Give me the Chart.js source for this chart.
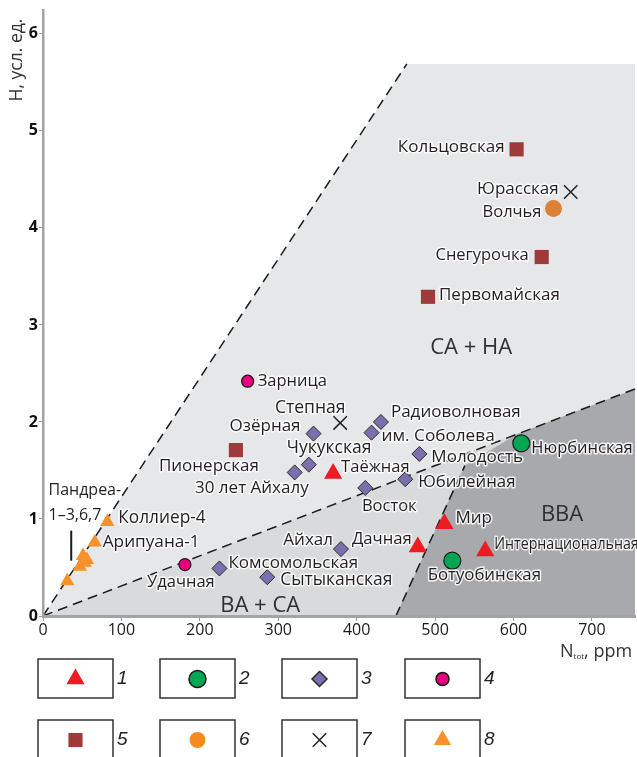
<!DOCTYPE html>
<html>
<head>
<meta charset="utf-8">
<script src="https://cdn.jsdelivr.net/npm/chart.js@4.4.1/dist/chart.umd.min.js"></script>
<style>
  body { margin: 0; background: #fff; }
  canvas { display: block; }
</style>
</head>
<body>
<canvas id="chart" width="637" height="757"></canvas>
<script>
// group 1 - red triangles
const names1 = ['Таёжная', 'Мир', 'Дачная', 'Интернациональная']
const n1 = [370, 512, 478, 564]
const h1 = [1.47, 0.95, 0.71, 0.67]
// group 2 - green circles
const names2 = ['Нюрбинская', 'Ботуобинская']
const n2 = [610, 522]
const h2 = [1.78, 0.57]
// group 3 - purple diamonds
const names3 = ['Озёрная', 'Чукукская', '30 лет Айхалу', 'Радиоволновая', 'им. Соболева', 'Молодость',
    'Юбилейная', 'Восток', 'Айхал', 'Комсомольская', 'Сытыканская']
const n3 = [345, 339, 321, 431, 419, 480, 462, 411, 380, 225, 286]
const h3 = [1.88, 1.56, 1.48, 2.00, 1.89, 1.67, 1.41, 1.32, 0.69, 0.49, 0.40]
// group 4 - magenta circles
const names4 = ['Зарница', 'Удачная']
const n4 = [261, 181]
const h4 = [2.42, 0.53]
// group 5 - brown squares
const names5 = ['Кольцовская', 'Снегурочка', 'Первомайская', 'Пионерская']
const n5 = [604, 636, 491, 246]
const h5 = [4.81, 3.70, 3.29, 1.71]
// group 6 - orange circle
const names6 = ['Волчья']
const n6 = [651]
const h6 = [4.20]
// group 7 - crosses
const names7 = ['Юрасская', 'Степная']
const n7 = [673, 379]
const h7 = [4.37, 1.99]
// group 8 - orange triangles
const names8 = ['Коллиер-4', 'Арипуана-1', '', '', '', '', '']
const n8 = [82, 66, 51, 53, 47, 56, 31]
const h8 = [0.97, 0.76, 0.62, 0.55, 0.51, 0.58, 0.36]

const xTicks = [0, 100, 200, 300, 400, 500, 600, 700]
const yTicks = [0, 1, 2, 3, 4, 5, 6]

// field boundaries (N, H)
const upperLine = [[0, 0], [464, 5.69]]
const lowerLine = [[0, 0], [755, 2.34]]
const bbaLine = [[450, 0], [538, 1.55]]
const bbaTop = [[538, 1.55], [606, 1.88], [755, 2.34]]
const fieldTop = 5.69

// label placement: align, dx, dy, font size, horizontal squeeze
const labelPos = {
    'Кольцовская': ['right', -12, -2, 17],
    'Юрасская': ['right', -12, -3, 17],
    'Волчья': ['right', -12, 4, 16.5],
    'Снегурочка': ['right', -13, -2, 16.5],
    'Первомайская': ['left', 11, -2, 17],
    'Зарница': ['left', 10, 0, 16.5],
    'Степная': ['center', -30, -15, 17.5],
    'Озёрная': ['right', -13, -7, 17],
    'Чукукская': ['left', -22, -17, 17.5],
    'Пионерская': ['center', -27, 16, 17],
    '30 лет Айхалу': ['right', 14, 16, 17],
    'Коллиер-4': ['left', 11, -4, 17.3],
    'Арипуана-1': ['left', 8, 0, 17.2],
    'Удачная': ['center', -4, 18, 16.5],
    'Комсомольская': ['left', 9, -5, 17],
    'Сытыканская': ['left', 13, 3, 17.4],
    'Радиоволновая': ['left', 10, -10, 17],
    'им. Соболева': ['left', 10, 3, 17.2],
    'Молодость': ['left', 12, 3, 17],
    'Юбилейная': ['left', 13, 3, 16.8],
    'Восток': ['center', 24, 18, 16.5],
    'Таёжная': ['left', 8, -6, 16.5],
    'Нюрбинская': ['left', 10, 5, 16.5],
    'Мир': ['left', 11, -6, 17],
    'Дачная': ['right', -6, -8, 16.7],
    'Айхал': ['right', -8, -9, 17],
    'Интернациональная': ['left', 9, -7, 16.5, 0.86],
    'Ботуобинская': ['center', 32, 15, 16.8],
}

const pts = (xs, ys) => xs.map((x, i) => ({ x: x, y: ys[i] }))

const datasets = [
    { label: '1', names: names1, data: pts(n1, h1), pointStyle: 'triangle', pointRadius: 10.5,
      backgroundColor: '#ed1c24', borderWidth: 0, legendRadius: 10.5 },
    { label: '2', names: names2, data: pts(n2, h2), pointStyle: 'circle', pointRadius: 8.5,
      backgroundColor: '#00a651', borderColor: '#1a1a1a', borderWidth: 1.2, legendRadius: 8.5 },
    { label: '3', names: names3, data: pts(n3, h3), pointStyle: 'rectRot', pointRadius: 7.5,
      backgroundColor: '#7b6fae', borderColor: '#2b2b2b', borderWidth: 1, legendRadius: 7.5 },
    { label: '4', names: names4, data: pts(n4, h4), pointStyle: 'circle', pointRadius: 6,
      backgroundColor: '#e6007e', borderColor: '#1a1a1a', borderWidth: 1.2, legendRadius: 6.5 },
    { label: '5', names: names5, data: pts(n5, h5), pointStyle: 'rect', pointRadius: 10,
      backgroundColor: '#9c3b39', borderWidth: 0, legendRadius: 10 },
    { label: '6', names: names6, data: pts(n6, h6), pointStyle: 'circle', pointRadius: 8.5,
      backgroundColor: '#dc8034', borderWidth: 0, legendRadius: 8, legendColor: '#f58a23' },
    { label: '7', names: names7, data: pts(n7, h7), pointStyle: 'crossRot', pointRadius: 9.5,
      backgroundColor: '#222', borderColor: '#222', borderWidth: 1.5, legendRadius: 9.5 },
    { label: '8', names: names8, data: pts(n8, h8), pointStyle: 'triangle', pointRadius: 8.3,
      backgroundColor: '#f7922a', borderWidth: 0, legendRadius: 10 },
]

const fieldsPlugin = {
    id: 'fields',
    beforeDraw(chart) {
        const ctx = chart.ctx
        const xs = chart.scales.x, ys = chart.scales.y
        const px = p => [xs.getPixelForValue(p[0]), ys.getPixelForValue(p[1])]
        const poly = (list, color) => {
            ctx.beginPath()
            list.map(px).forEach((p, i) => i ? ctx.lineTo(p[0], p[1]) : ctx.moveTo(p[0], p[1]))
            ctx.closePath()
            ctx.fillStyle = color
            ctx.fill()
        }
        const line = list => {
            ctx.beginPath()
            list.map(px).forEach((p, i) => i ? ctx.lineTo(p[0], p[1]) : ctx.moveTo(p[0], p[1]))
            ctx.stroke()
        }
        ctx.save()
        poly([[0, 0], upperLine[1], [xs.max, fieldTop], [xs.max, 0]], '#e6e7e8')
        poly([[0, 0], lowerLine[1], [xs.max, 0]], '#d9dadb')
        poly([bbaLine[0]].concat(bbaTop, [[xs.max, 0]]), '#a7a9ac')
        ctx.strokeStyle = '#1a1a1a'
        ctx.lineWidth = 1.5
        ctx.setLineDash([10, 6])
        line(upperLine)
        line(lowerLine)
        line(bbaLine)
        ctx.restore()
    },
    afterDatasetsDraw(chart) {
        const ctx = chart.ctx
        const xs = chart.scales.x, ys = chart.scales.y
        ctx.save()
        ctx.textBaseline = 'middle'
        ctx.lineJoin = 'round'
        ctx.lineWidth = 3
        ctx.strokeStyle = 'rgba(255,255,255,0.85)'
        ctx.fillStyle = '#231f20'
        chart.data.datasets.forEach(ds => {
            ds.data.forEach((p, i) => {
                const name = ds.names[i]
                const pos = labelPos[name]
                if (!name || !pos) return
                const x = xs.getPixelForValue(p.x) + pos[1]
                const y = ys.getPixelForValue(p.y) + pos[2]
                const sq = pos[4] || 1
                ctx.font = pos[3] + 'px "Open Sans"'
                ctx.textAlign = pos[0]
                ctx.save()
                ctx.translate(x, y)
                ctx.scale(sq, 1)
                ctx.strokeText(name, 0, 0)
                ctx.fillText(name, 0, 0)
                ctx.restore()
            })
        })
        // Pandrea note
        ctx.font = '16px "Open Sans"'
        ctx.textAlign = 'left'
        const pnx = xs.getPixelForValue(7)
        ctx.strokeText('Пандреа-', pnx, ys.getPixelForValue(1.29))
        ctx.fillText('Пандреа-', pnx, ys.getPixelForValue(1.29))
        ctx.strokeText('1–3,6,7', pnx, ys.getPixelForValue(1.04))
        ctx.fillText('1–3,6,7', pnx, ys.getPixelForValue(1.04))
        ctx.strokeStyle = '#1a1a1a'
        ctx.lineWidth = 2
        ctx.beginPath()
        ctx.moveTo(xs.getPixelForValue(36), ys.getPixelForValue(0.88))
        ctx.lineTo(xs.getPixelForValue(36), ys.getPixelForValue(0.57))
        ctx.stroke()
        // field names
        ctx.font = '22px "Open Sans"'
        ctx.fillStyle = '#2f2f2f'
        ctx.textAlign = 'center'
        ctx.fillText('СА + НА', xs.getPixelForValue(546), ys.getPixelForValue(2.77))
        ctx.fillText('ВВА', xs.getPixelForValue(662), ys.getPixelForValue(1.04))
        ctx.fillText('ВА + СА', xs.getPixelForValue(277), ys.getPixelForValue(0.11))
        ctx.restore()
    },
    afterDraw(chart) {
        const ctx = chart.ctx
        ctx.save()
        // axis titles
        ctx.fillStyle = '#333'
        ctx.font = '17.5px "Open Sans"'
        ctx.textBaseline = 'middle'
        ctx.save()
        ctx.translate(17, 60)
        ctx.rotate(-Math.PI / 2)
        ctx.textAlign = 'center'
        ctx.fillText('Н, усл. ед.', 0, 0)
        ctx.restore()
        ctx.textAlign = 'left'
        ctx.font = '18px "Open Sans"'
        ctx.fillText('N', 560, 652)
        let w = ctx.measureText('N').width
        ctx.font = '8px "Open Sans"'
        ctx.fillText('tot', 560 + w, 657)
        w += ctx.measureText('tot').width
        ctx.font = '18px "Open Sans"'
        ctx.fillText(', ppm', 560 + w, 652)

        // legend boxes
        const cols = [38, 160, 282, 405]
        const rows = [659, 720]
        chart.data.datasets.forEach((ds, i) => {
            const bx = cols[i % 4], by = rows[Math.floor(i / 4)]
            ctx.strokeStyle = '#333'
            ctx.lineWidth = 1.5
            ctx.strokeRect(bx, by, 75, 39)
            ctx.fillStyle = ds.legendColor || ds.backgroundColor
            ctx.strokeStyle = ds.borderColor || ds.backgroundColor
            Chart.helpers.drawPoint(ctx, {
                pointStyle: ds.pointStyle, radius: ds.legendRadius, rotation: 0,
                borderWidth: ds.borderWidth
            }, bx + 37.5, by + 20)
            ctx.fillStyle = '#222'
            ctx.font = 'italic 19px "Liberation Sans"'
            ctx.textAlign = 'left'
            ctx.fillText(ds.label, bx + 79, by + 20)
        })
        ctx.restore()
    }
}

new Chart(document.getElementById('chart'), {
    type: 'scatter',
    data: { datasets: datasets },
    options: {
        responsive: false,
        animation: false,
        clip: false,
        layout: { autoPadding: false, padding: { top: 10, right: 2, left: 0, bottom: 0 } },
        plugins: { legend: { display: false }, tooltip: { enabled: false } },
        scales: {
            x: {
                type: 'linear', min: 0, max: 755,
                afterBuildTicks: s => { s.ticks = xTicks.map(v => ({ value: v })) },
                afterFit: s => { s.height = 141; s.paddingRight = 0 },
                grid: { drawOnChartArea: false, tickLength: 5, color: '#999' },
                border: { color: '#a3a3a3', width: 3 },
                ticks: { font: { family: 'Open Sans', size: 16 }, color: '#1a1a1a', padding: 0, maxRotation: 0 },
            },
            y: {
                type: 'linear', min: 0, max: 6.24,
                afterBuildTicks: s => { s.ticks = yTicks.map(v => ({ value: v })) },
                afterFit: s => { s.width = 43 },
                grid: { drawOnChartArea: false, tickLength: 4, color: '#999' },
                border: { color: '#a3a3a3', width: 2.5 },
                ticks: { font: { family: 'Open Sans', size: 16, weight: 'bold' }, color: '#111', padding: 1 },
            },
        },
    },
    plugins: [fieldsPlugin],
})
</script>
</body>
</html>
